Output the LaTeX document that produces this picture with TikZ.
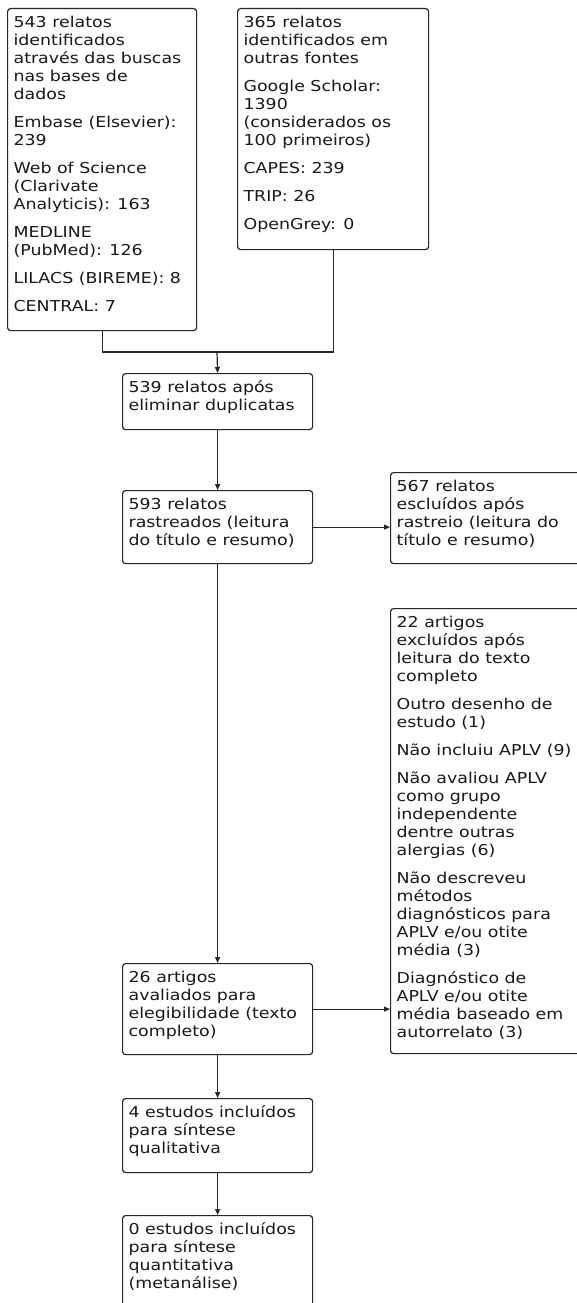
\documentclass[tikz,border=0pt]{standalone}
\usepackage{fontspec}
\setmainfont[FakeStretch=1.16]{DejaVu Sans}
\usetikzlibrary{arrows.meta}
\newcommand\bxt[3]{\parbox[t][#2][t]{#1}{\rule{0pt}{19pt}#3}}
\tikzset{
  box/.style={draw=black!85, line width=1.2pt, rounded corners=3pt, inner xsep=6pt, inner ysep=0pt,
    anchor=north west, text=black!90, font=\fontsize{15}{18}\selectfont},
  conn/.style={draw=black!85, line width=1.2pt},
  arr/.style={conn, -{Triangle[length=6pt,width=5pt]}}
}
\begin{document}
\begin{tikzpicture}[x=1pt,y=-1pt]
\useasboundingbox (0,0) rectangle (577,1303);
\fill[white] (0,0) rectangle (577,1303);
\clip (0,0) rectangle (577,1303);
\node[box] (b1) at (7,8) {\bxt{177pt}{322pt}{543 relatos\\identificados\\através das buscas\\nas bases de\\dados\\[10pt]Embase (Elsevier):\\239\\[10pt]Web of Science\\(Clarivate\\Analyticis): 163\\[10pt]MEDLINE\\(PubMed): 126\\[10pt]LILACS (BIREME): 8\\[10pt]CENTRAL: 7}};
\node[box] (b2) at (237,8) {\bxt{179pt}{241pt}{365 relatos\\identificados em\\outras fontes\\[10pt]Google Scholar:\\1390\\(considerados os\\100 primeiros)\\[10pt]CAPES: 239\\[10pt]TRIP: 26\\[10pt]OpenGrey: 0}};
\node[box] (b3) at (122,373) {\bxt{178pt}{56pt}{539 relatos após\\eliminar duplicatas}};
\node[box] (b4) at (122,490) {\bxt{178pt}{73pt}{593 relatos\\rastreados (leitura\\do título e resumo)}};
\node[box] (b5) at (390,472) {\bxt{188pt}{91pt}{567 relatos\\escluídos após\\rastreio (leitura do\\título e resumo)}};
\node[box] (b6) at (390,608) {\bxt{188pt}{445pt}{22 artigos\\excluídos após\\leitura do texto\\completo\\[10pt]Outro desenho de\\estudo (1)\\[10pt]Não incluiu APLV (9)\\[10pt]Não avaliou APLV\\como grupo\\independente\\dentre outras\\alergias (6)\\[10pt]Não descreveu\\métodos\\diagnósticos para\\APLV e/ou otite\\média (3)\\[10pt]Diagnóstico de\\APLV e/ou otite\\média baseado em\\autorrelato (3)}};
\node[box] (b7) at (122,963) {\bxt{178pt}{91pt}{26 artigos\\avaliados para\\elegibilidade (texto\\completo)}};
\node[box] (b8) at (122,1098) {\bxt{178pt}{74pt}{4 estudos incluídos\\para síntese\\qualitativa}};
\node[box] (b9) at (122,1215) {\bxt{178pt}{105pt}{0 estudos incluídos\\para síntese\\quantitativa\\(metanálise)}};
\coordinate (j) at (217,352);
\draw[conn] (b1.south) |- (j) -| (b2.south);
\draw[arr] (j) -- (b3.north);
\draw[arr] (b3.south) -- (b4.north);
\draw[arr] (b4.east) -- (b5.west |- b4.east);
\draw[arr] (b4.south) -- (b7.north);
\draw[arr] (b7.east) -- (b6.west |- b7.east);
\draw[arr] (b7.south) -- (b8.north);
\draw[arr] (b8.south) -- (b9.north);
\end{tikzpicture}
\end{document}
